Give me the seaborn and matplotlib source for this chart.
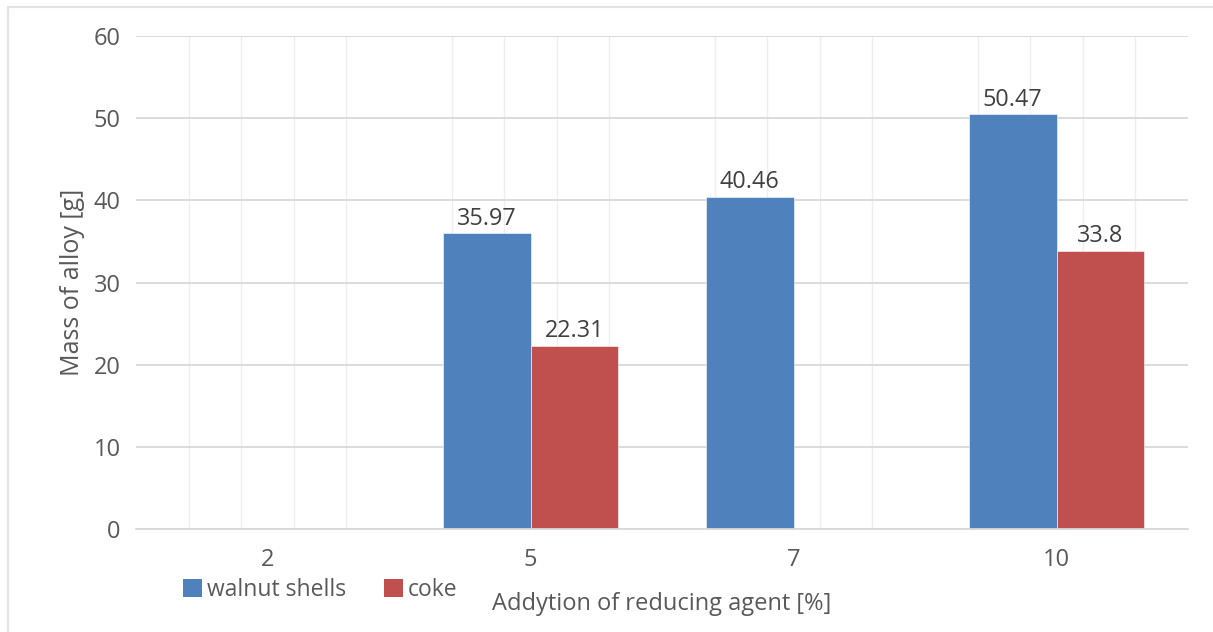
import numpy as np
import pandas as pd
import matplotlib
matplotlib.use("Agg")
import matplotlib.pyplot as plt
from matplotlib.lines import Line2D
from matplotlib.patches import Patch
from matplotlib.ticker import FixedLocator
import seaborn as sns

# Data
additions = ["2", "5", "7", "10"]
walnut_shells = [np.nan, 35.97, 40.46, 50.47]
coke = [np.nan, 22.31, np.nan, 33.8]
series_names = ["walnut shells", "coke"]
y_ticks = [0, 10, 20, 30, 40, 50, 60]

BLUE = "#4F81BD"
RED = "#C0504D"
TEXT = "#595959"
GRID = "#D9D9D9"

df = pd.DataFrame({
    "addition": additions * 2,
    "series": [series_names[0]] * 4 + [series_names[1]] * 4,
    "mass": walnut_shells + coke,
}).dropna()

sns.set_theme(style="white")
plt.rcParams["font.family"] = ["Open Sans", "DejaVu Sans"]

fig = plt.figure(figsize=(12.13, 6.32), dpi=100)
ax = fig.add_axes([136 / 1213, 1 - 529 / 632, (1188 - 136) / 1213, (529 - 36) / 632])

sns.barplot(
    data=df, x="addition", y="mass", hue="series",
    order=additions, hue_order=series_names,
    palette=[BLUE, RED], width=2 / 3, gap=0, errorbar=None,
    saturation=1, edgecolor="white", linewidth=0.4, ax=ax, legend=False,
)

for cont in ax.containers:
    vals = [bar.get_height() for bar in cont]
    ax.bar_label(cont, labels=[f"{v:g}" for v in vals], padding=2,
                 fontsize=16.8, color="#404040")

ax.set_xlim(-0.5, len(additions) - 0.5)
ax.set_ylim(0, 60)
ax.set_yticks(y_ticks)
ax.set_yticklabels([str(t) for t in y_ticks])

# light vertical gridlines at fifths of each category
minor = [c - 0.5 + k / 5 for c in range(len(additions)) for k in range(1, 5)]
ax.xaxis.set_minor_locator(FixedLocator(minor))
ax.grid(which="minor", axis="x", color="#EEEEEE", linewidth=1.0)
ax.grid(which="major", axis="y", color=GRID, linewidth=1.3)
ax.grid(which="major", axis="x", visible=False)
ax.set_axisbelow(True)

for s in ["top", "right", "left"]:
    ax.spines[s].set_visible(False)
ax.spines["bottom"].set_color(GRID)
ax.spines["bottom"].set_linewidth(1.3)

ax.tick_params(axis="both", which="both", length=0, labelsize=17, colors=TEXT)
ax.tick_params(axis="x", pad=14)
ax.tick_params(axis="y", pad=11)

ax.set_ylabel("Mass of alloy [g]", fontsize=18, color=TEXT, labelpad=6)
ax.set_xlabel("Addytion of reducing agent [%]", fontsize=17, color=TEXT, labelpad=14)

handles = [Patch(facecolor=BLUE, edgecolor="none"), Patch(facecolor=RED, edgecolor="none")]
fig.legend(handles, series_names, loc="center left",
           bbox_to_anchor=(183 / 1213, 1 - 590 / 632), ncol=2, frameon=False,
           fontsize=16.5, labelcolor=TEXT, handlelength=0.85, handleheight=0.85,
           handletextpad=0.2, columnspacing=1.65, borderaxespad=0, borderpad=0)

# chart frame
fig.add_artist(Line2D([7.5 / 1213, 7.5 / 1213], [0, 1 - 6.5 / 632],
                      transform=fig.transFigure, color="#E3E3E3", linewidth=1.5))
fig.add_artist(Line2D([7.5 / 1213, 1], [1 - 6.5 / 632, 1 - 6.5 / 632],
                      transform=fig.transFigure, color="#E3E3E3", linewidth=1.5))

fig.savefig("out.png", dpi=100, facecolor="white")
